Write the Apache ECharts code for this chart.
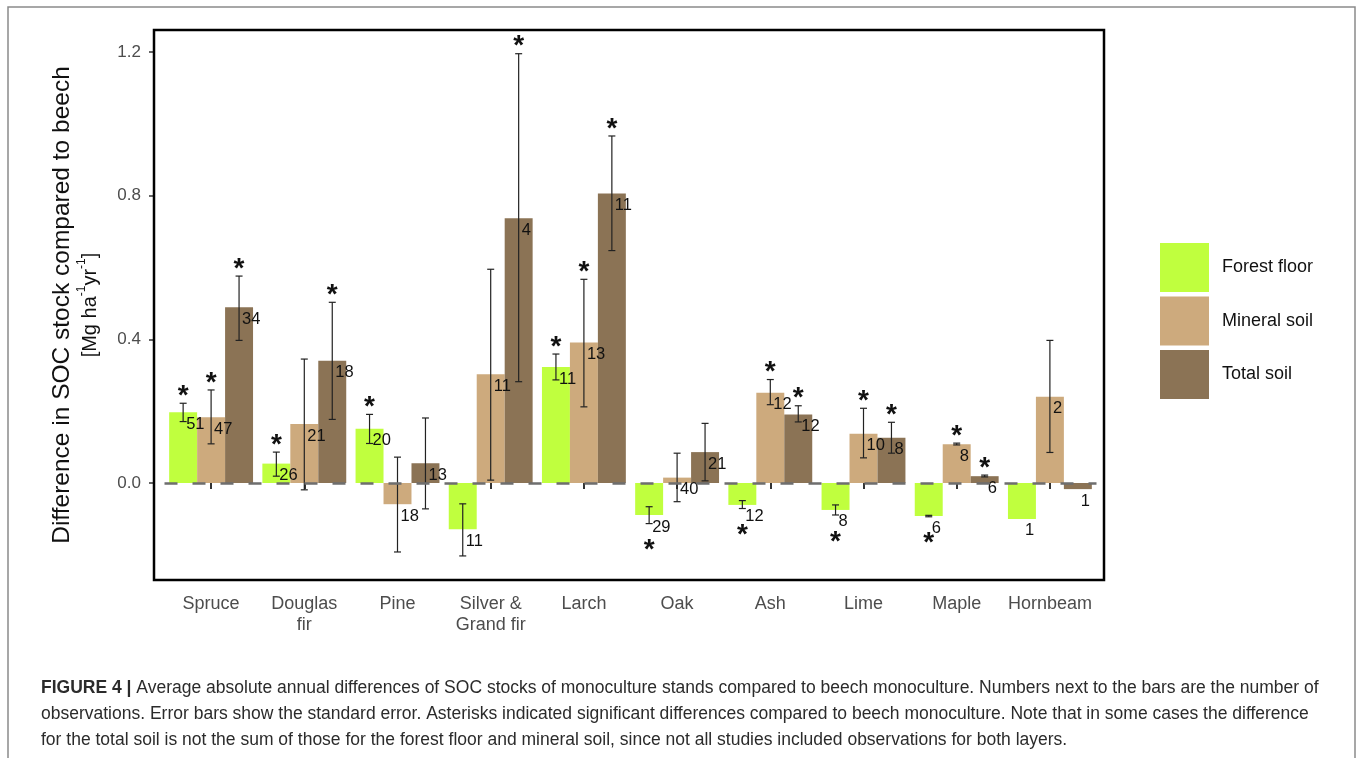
<!DOCTYPE html>
<html>
<head>
<meta charset="utf-8">
<script src="https://cdn.jsdelivr.net/npm/echarts@6/dist/echarts.min.js"></script>
<style>
html,body{margin:0;padding:0;background:#fff;}
#chart{width:1357px;height:758px;}
</style>
</head>
<body>
<div id="chart"></div>
<script>
// ---------- data ----------
const categories = ['Spruce', 'Douglas\nfir', 'Pine', 'Silver &\nGrand fir', 'Larch', 'Oak', 'Ash', 'Lime', 'Maple', 'Hornbeam'];
const seriesNames = ['Forest floor', 'Mineral soil', 'Total soil'];

const forestFloor     = [0.197, 0.054, 0.151, -0.129, 0.323, -0.089, -0.061, -0.075, -0.092, -0.100];
const forestFloorLow  = [0.171, 0.019, 0.110, -0.203, 0.287, -0.113, -0.071, -0.089, -0.094, null];
const forestFloorHigh = [0.222, 0.086, 0.191, -0.058, 0.359, -0.066, -0.049, -0.061, -0.090, null];
const forestFloorN    = [51, 26, 20, 11, 11, 29, 12, 8, 6, 1];
const forestFloorSig  = [1, 1, 1, 0, 1, 1, 1, 1, 1, 0];

const mineralSoil     = [0.183, 0.164, -0.059, 0.303, 0.391, 0.015, 0.251, 0.137, 0.108, 0.240];
const mineralSoilLow  = [0.109, -0.019, -0.192, 0.008, 0.212, -0.052, 0.218, 0.070, 0.106, 0.085];
const mineralSoilHigh = [0.259, 0.345, 0.072, 0.595, 0.567, 0.083, 0.288, 0.208, 0.111, 0.397];
const mineralSoilN    = [47, 21, 18, 11, 13, 40, 12, 10, 8, 2];
const mineralSoilSig  = [1, 0, 0, 0, 1, 0, 1, 1, 1, 0];

const totalSoil       = [0.489, 0.340, 0.055, 0.737, 0.806, 0.086, 0.191, 0.126, 0.019, -0.017];
const totalSoilLow    = [0.397, 0.177, -0.072, 0.282, 0.647, 0.006, 0.170, 0.083, 0.017, null];
const totalSoilHigh   = [0.576, 0.503, 0.181, 1.195, 0.966, 0.166, 0.215, 0.169, 0.022, null];
const totalSoilN      = [34, 18, 13, 4, 11, 21, 12, 8, 6, 1];
const totalSoilSig    = [1, 1, 0, 1, 1, 0, 1, 1, 1, 0];

const yTicks = [0, 0.4, 0.8, 1.2];

const captionLines = [
  'Average absolute annual differences of SOC stocks of monoculture stands compared to beech monoculture. Numbers next to the bars are the number of',
  'observations. Error bars show the standard error. Asterisks indicated significant differences compared to beech monoculture. Note that in some cases the difference',
  'for the total soil is not the sum of those for the forest floor and mineral soil, since not all studies included observations for both layers.'
];

// ---------- build ----------
const colors = ['#C0FF3E', '#CDAA7D', '#8B7355'];
const groups = [
  {v: forestFloor, lo: forestFloorLow, hi: forestFloorHigh, n: forestFloorN, sig: forestFloorSig},
  {v: mineralSoil, lo: mineralSoilLow, hi: mineralSoilHigh, n: mineralSoilN, sig: mineralSoilSig},
  {v: totalSoil,   lo: totalSoilLow,   hi: totalSoilHigh,   n: totalSoilN,   sig: totalSoilSig}
];
const annot = [];
groups.forEach((g, s) => g.v.forEach((v, i) => {
  annot.push([i, v, g.lo[i] == null ? NaN : g.lo[i], g.hi[i] == null ? NaN : g.hi[i], g.n[i], g.sig[i], s]);
}));

const FONT = '"Liberation Sans", Arial, Helvetica, sans-serif';

function renderAnnot(params, api) {
  const i = api.value(0), v = api.value(1), lo = api.value(2), hi = api.value(3);
  const n = api.value(4), sig = api.value(5), s = api.value(6);
  const band = api.size([1, 0])[0];
  const bw = band * 0.3;
  const p = api.coord([i, v]);
  const x = p[0] + (s - 1) * bw;
  const yv = p[1];
  const children = [];
  const hasErr = !isNaN(lo) && !isNaN(hi);
  let yHi = yv, yLo = yv;
  const errStyle = {stroke: '#222', lineWidth: 1.2};
  if (hasErr) {
    yHi = api.coord([i, hi])[1];
    yLo = api.coord([i, lo])[1];
    children.push({type: 'line', shape: {x1: x, y1: yHi, x2: x, y2: yLo}, style: errStyle});
    children.push({type: 'line', shape: {x1: x - 3.5, y1: yHi, x2: x + 3.5, y2: yHi}, style: errStyle});
    children.push({type: 'line', shape: {x1: x - 3.5, y1: yLo, x2: x + 3.5, y2: yLo}, style: errStyle});
  }
  children.push({
    type: 'text', x: x + 3, y: yv + 12,
    style: {text: String(n), fill: '#111', font: '16.5px ' + FONT, align: 'left', verticalAlign: 'middle'}
  });
  if (sig) {
    const ty = v >= 0 ? Math.min(yHi, yv) - 14 : Math.max(yLo, yv) + 20;
    children.push({
      type: 'text', x: x, y: ty + 7,
      style: {text: '*', fill: '#111', font: 'bold 28px ' + FONT, align: 'center', verticalAlign: 'middle'}
    });
  }
  return {type: 'group', children: children};
}

const chart = echarts.init(document.getElementById('chart'), null, {renderer: 'canvas'});

const barSeries = seriesNames.map((name, s) => ({
  name: name,
  type: 'bar',
  xAxisIndex: 0, yAxisIndex: 0,
  data: groups[s].v,
  barWidth: '30%',
  barGap: '0%',
  itemStyle: {color: colors[s]},
  emphasis: {disabled: true},
  z: 2
}));

const option = {
  animation: false,
  backgroundColor: '#ffffff',
  textStyle: {fontFamily: FONT},
  grid: [
    {left: 164.5, width: 932, top: 30, bottom: 178, containLabel: false},
    {left: 154, right: 253, top: 30, bottom: 178, show: true, borderColor: '#000', borderWidth: 2.5, backgroundColor: 'transparent', z: 5}
  ],
  legend: {
    orient: 'vertical',
    left: 1155, top: 238,
    itemWidth: 49, itemHeight: 49, itemGap: 4.5,
    icon: 'rect',
    data: seriesNames,
    textStyle: {fontSize: 18, color: '#111', padding: [0, 0, 0, 8], fontFamily: FONT},
    selectedMode: false
  },
  xAxis: [
    {
      type: 'category', gridIndex: 0, data: categories,
      axisLine: {show: false},
      axisTick: {show: true, alignWithLabel: true, length: 6, lineStyle: {color: '#333', width: 2}},
      axisLabel: {interval: 0, color: '#4d4d4d', fontSize: 18, margin: 14, lineHeight: 21, fontFamily: FONT},
      splitLine: {show: false}
    },
    {type: 'value', gridIndex: 1, show: false, min: 0, max: 1}
  ],
  yAxis: [
    {
      type: 'value', gridIndex: 0, min: -0.27, max: 1.261, offset: 10.5,
      axisLine: {show: false},
      splitLine: {show: false},
      axisTick: {show: true, length: 5, lineStyle: {color: '#333', width: 1.5}, customValues: yTicks},
      axisLabel: {color: '#4d4d4d', fontSize: 17, margin: 13, customValues: yTicks,
        formatter: v => Number(v).toFixed(1), fontFamily: FONT},
      name: '{t|Difference in SOC stock compared to beech}\n{u|[Mg ha}{s|-1}{u|yr}{s|-1}{u|]}',
      nameLocation: 'middle', nameRotate: 90, nameGap: 50,
      nameTextStyle: {
        align: 'center',
        rich: {
          t: {fontSize: 24.5, color: '#111', lineHeight: 28, fontFamily: FONT},
          u: {fontSize: 20, color: '#111', lineHeight: 28, fontFamily: FONT},
          s: {fontSize: 12, color: '#111', lineHeight: 28, verticalAlign: 'top', padding: [0, 0, 10, 0], fontFamily: FONT}
        }
      }
    },
    {type: 'value', gridIndex: 1, show: false, min: 0, max: 1}
  ],
  series: barSeries.concat([
    {
      type: 'custom', name: 'annotations',
      xAxisIndex: 0, yAxisIndex: 0,
      data: annot,
      renderItem: renderAnnot,
      z: 4, silent: true,
      markLine: {
        silent: true, symbol: 'none', label: {show: false},
        lineStyle: {color: '#6e6e6e', width: 2.5, type: [13, 15]},
        data: [{yAxis: 0}],
        z: 6
      }
    }
  ]),
  graphic: [
    {type: 'rect', shape: {x: 8, y: 7, width: 1347, height: 820}, style: {fill: 'none', stroke: '#8a8a8a', lineWidth: 1.5}, silent: true, z: 0},
    {
      type: 'text', left: 41, top: 675, silent: true,
      style: {
        text: '{b|FIGURE 4 |} ' + captionLines[0] + '\n' + captionLines[1] + '\n' + captionLines[2],
        font: '17.5px ' + FONT, fill: '#2b2b2b', lineHeight: 26,
        rich: {b: {fontWeight: 'bold', fontSize: 17.5, fontFamily: FONT, fill: '#2b2b2b', lineHeight: 26}}
      }
    }
  ]
};
chart.setOption(option);
</script>
</body>
</html>
